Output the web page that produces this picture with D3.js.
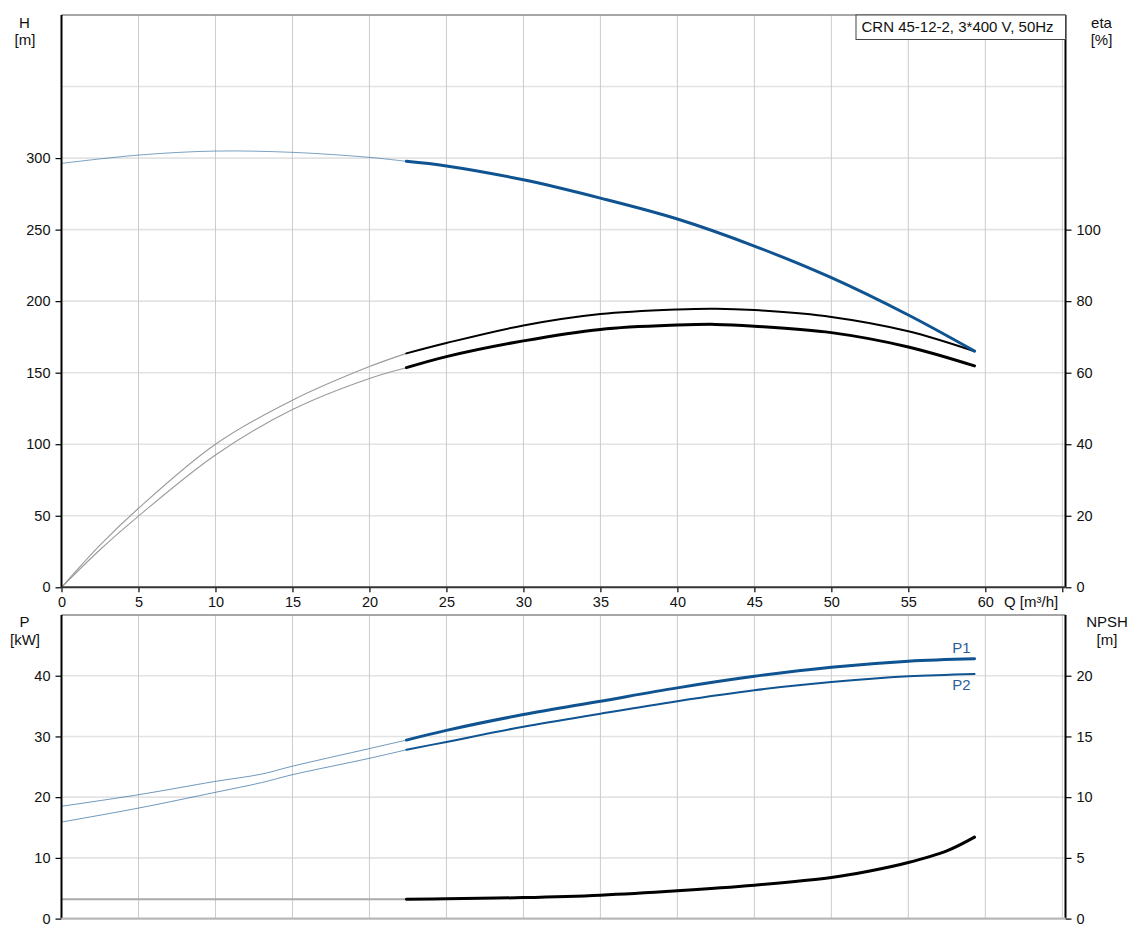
<!DOCTYPE html>
<html><head><meta charset="utf-8">
<script src="https://cdn.jsdelivr.net/npm/d3@7"></script>
<style>
html,body{margin:0;padding:0;background:#fff;}
svg{display:block;font-family:"Liberation Sans",Arial,sans-serif;}
</style></head>
<body>
<svg id="c" width="1133" height="941"></svg>
<script>
// ---------- data ----------
const title = "CRN 45-12-2, 3*400 V, 50Hz";
const dutyStart = 22.4;           // Q where the bold (operating) part of every curve begins
const xTicks = [0,5,10,15,20,25,30,35,40,45,50,55,60];
const hTicks = [0,50,100,150,200,250,300];
const etaTicks = [0,20,40,60,80,100];
const pTicks = [0,10,20,30,40];
const npshTicks = [0,5,10,15,20];

const qH = [0,5,10,15,20,22.4,25,30,35,40,45,50,55,59.3];
const headH = [296.3,302.1,304.9,304.0,300.5,297.7,294.5,284.8,272.0,257.4,238.5,216.4,190.3,165.1];

const qEta = [0,2.5,5,10,15,20,22.4,25,30,35,40,42.5,45,50,55,59.3];
const etaUpper = [0,11.8,22.1,40.0,52.3,61.7,65.4,68.3,73.2,76.4,77.7,77.9,77.5,75.6,71.6,66.0];
const etaLower = [0,10.5,19.9,37.0,49.7,58.4,61.4,64.5,68.9,72.1,73.3,73.5,73.0,71.2,67.2,61.9];

const qP = [0,5,10,13,15,20,22.4,25,30,35,40,45,50,55,59.3];
const p1 = [18.5,20.4,22.6,23.8,25.1,28.0,29.4,31.0,33.6,35.8,38.0,39.9,41.4,42.4,42.8];
const p2 = [15.9,18.2,20.8,22.4,23.7,26.4,27.8,29.1,31.6,33.75,35.8,37.6,38.95,39.9,40.3];

const qN = [0,22.4,25,30,35,40,45,50,52.5,55,57.5,59.3];
const npsh = [1.6,1.6,1.63,1.73,1.93,2.29,2.75,3.38,3.92,4.62,5.58,6.71];

// ---------- layout ----------
const svg = d3.select("#c");
const X0 = 61.5, X1 = 1062.3, RA = 1065.5;
const topY0 = 15, topY1 = 587.3, botY0 = 615, botY1 = 918.6;
const x = d3.scaleLinear().domain([0,65]).range([X0,X1]);
const yH = d3.scaleLinear().domain([0,400]).range([topY1,topY0]);
const yEta = d3.scaleLinear().domain([0,160]).range([topY1,topY0]);
const yP = d3.scaleLinear().domain([0,50]).range([botY1,botY0]);
const yN = d3.scaleLinear().domain([0,25]).range([botY1,botY0]);
const txt = "#111";
const blue = "#0f5391";

// gridlines
function grid(y0,y1,hVals,yS){
  const g = svg.append("g");
  g.selectAll("line.h").data(hVals).join("line")
    .attr("x1",X0).attr("x2",RA).attr("y1",d=>yS(d)).attr("y2",d=>yS(d))
    .attr("stroke","#e3e3e3").attr("stroke-width",1.6);
  g.selectAll("line.v").data(d3.range(5,66,5)).join("line")
    .attr("x1",d=>x(d)).attr("x2",d=>x(d)).attr("y1",y0).attr("y2",y1)
    .attr("stroke","#cbcbcb").attr("stroke-width",1);
}
grid(topY0,topY1,[50,100,150,200,250,300,350],yH);
grid(botY0,botY1,[10,20,30,40],yP);

// panel top borders
[topY0,botY0].forEach(y=>svg.append("line").attr("x1",X0).attr("x2",RA).attr("y1",y).attr("y2",y)
  .attr("stroke","#888").attr("stroke-width",1.3));

// curves
function curve(qs,vs,yS,from,to,opts){
  const pts = qs.map((q,i)=>[q,vs[i]]).filter(p=>p[0]>=from-1e-9 && p[0]<=to+1e-9);
  const line = d3.line().x(d=>x(d[0])).y(d=>yS(d[1])).curve(d3.curveCatmullRom.alpha(0.5));
  svg.append("path").attr("d",line(pts)).attr("fill","none")
    .attr("stroke",opts.c).attr("stroke-width",opts.w).attr("stroke-opacity",opts.o||1)
    .attr("stroke-linecap","round");
}
function series(qs,vs,yS,thin,thick){
  curve(qs,vs,yS,0,dutyStart,thin);
  curve(qs,vs,yS,dutyStart,100,thick);
}
series(qEta,etaUpper,yEta,{c:"#9a9a9a",w:1.1},{c:"#000",w:2});
series(qEta,etaLower,yEta,{c:"#9a9a9a",w:1.1},{c:"#000",w:3});
series(qH,headH,yH,{c:blue,w:1,o:0.55},{c:blue,w:3});
series(qP,p1,yP,{c:blue,w:1,o:0.6},{c:blue,w:3});
series(qP,p2,yP,{c:blue,w:1,o:0.6},{c:blue,w:2});
series(qN,npsh,yN,{c:"#aaa",w:2},{c:"#000",w:3});

// curve labels
svg.append("text").attr("x",x(59.3)-13).attr("y",yP(p1[p1.length-1])-6).attr("text-anchor","middle")
  .attr("font-size",15).attr("fill","#2c5d9c").text("P1");
svg.append("text").attr("x",x(59.3)-13).attr("y",yP(p2[p2.length-1])+16).attr("text-anchor","middle")
  .attr("font-size",15).attr("fill","#2c5d9c").text("P2");

// axes
function leftAxis(yS,ticks,y0,y1){
  const g = svg.append("g").attr("transform",`translate(${X0},0)`)
    .call(d3.axisLeft(yS).tickValues(ticks).tickSize(6).tickPadding(5).tickFormat(d3.format("d")));
  g.select(".domain").remove();
  g.selectAll(".tick line").attr("stroke","#000").attr("stroke-width",1.2);
  g.selectAll(".tick text").attr("font-size",14.5).attr("fill",txt).attr("font-family","Liberation Sans,Arial");
  svg.append("line").attr("x1",X0).attr("x2",X0).attr("y1",y0).attr("y2",y1).attr("stroke","#000").attr("stroke-width",2);
}
function rightAxis(yS,ticks,y0,y1){
  const g = svg.append("g").attr("transform",`translate(${RA},0)`)
    .call(d3.axisRight(yS).tickValues(ticks).tickSize(6).tickPadding(5).tickFormat(d3.format("d")));
  g.select(".domain").remove();
  g.selectAll(".tick line").attr("stroke","#000").attr("stroke-width",1.2);
  g.selectAll(".tick text").attr("font-size",14.5).attr("fill",txt).attr("font-family","Liberation Sans,Arial");
  svg.append("line").attr("x1",RA).attr("x2",RA).attr("y1",y0).attr("y2",y1).attr("stroke","#000").attr("stroke-width",2);
}
leftAxis(yH,hTicks,topY0,topY1);
rightAxis(yEta,etaTicks,topY0,topY1);
leftAxis(yP,pTicks,botY0,botY1);
rightAxis(yN,npshTicks,botY0,botY1);

// x axis (top panel)
const gx = svg.append("g").attr("transform",`translate(0,${topY1})`)
  .call(d3.axisBottom(x).tickValues(xTicks.concat([65])).tickSize(5).tickPadding(4)
    .tickFormat(d=>d===65?"":d3.format("d")(d)));
gx.select(".domain").remove();
gx.selectAll(".tick line").attr("stroke","#000").attr("stroke-width",1.2);
gx.selectAll(".tick text").attr("font-size",14.5).attr("fill",txt).attr("font-family","Liberation Sans,Arial");
svg.append("line").attr("x1",X0).attr("x2",RA).attr("y1",topY1).attr("y2",topY1).attr("stroke","#333").attr("stroke-width",2);
svg.append("text").attr("x",1004).attr("y",607).attr("font-size",15).attr("fill",txt).text("Q [m³/h]");
// bottom panel baseline
svg.append("line").attr("x1",X0).attr("x2",RA).attr("y1",botY1).attr("y2",botY1).attr("stroke","#b8b8b8").attr("stroke-width",2.2);

// axis titles
function label(cx,cy,t){svg.append("text").attr("x",cx).attr("y",cy).attr("text-anchor","middle")
  .attr("font-size",15).attr("fill",txt).text(t);}
label(24.5,28,"H"); label(25,45,"[m]");
label(1101.5,28,"eta"); label(1101.5,45,"[%]");
label(24.5,627,"P"); label(25,645,"[kW]");
label(1107,627,"NPSH"); label(1107,645,"[m]");

// title box
svg.append("rect").attr("x",856).attr("y",15).attr("width",RA-856).attr("height",24.5)
  .attr("fill","#fff").attr("stroke","#444").attr("stroke-width",1);
svg.append("text").attr("x",861.5).attr("y",32).attr("font-size",15).attr("fill",txt).text(title);
</script>
</body></html>
